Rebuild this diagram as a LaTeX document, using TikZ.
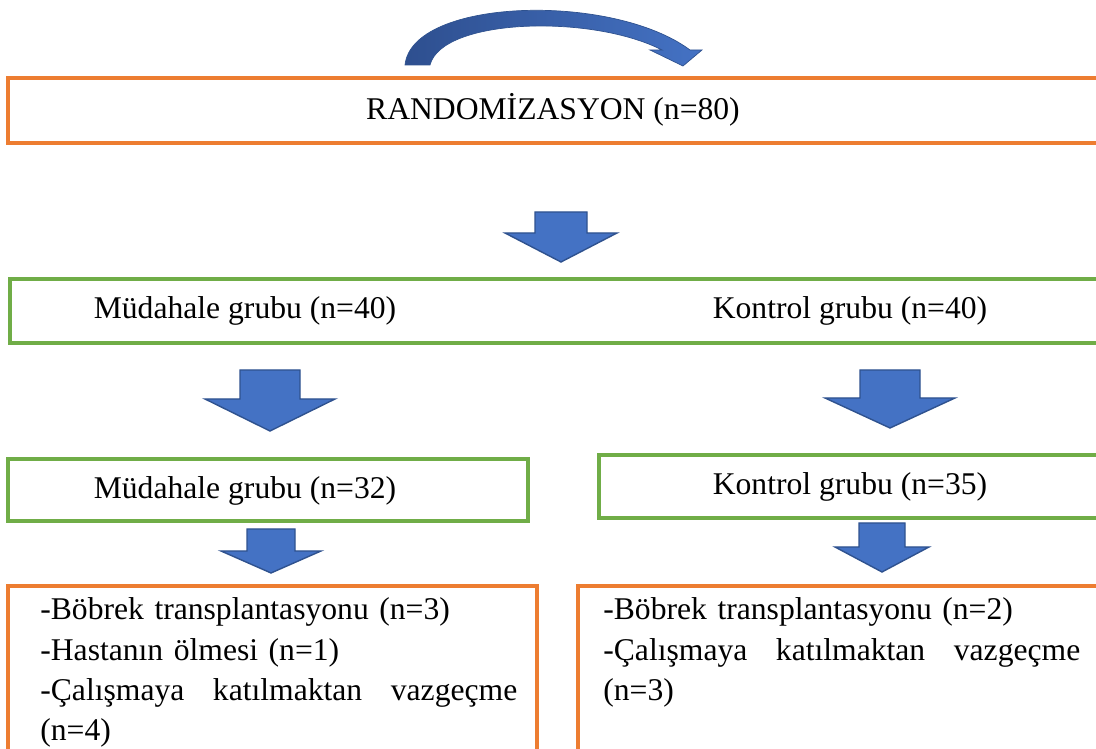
\documentclass[tikz,border=0pt]{standalone}
\usepackage{fontspec}
\setmainfont{Liberation Serif}
\usetikzlibrary{calc}
\definecolor{boxorange}{HTML}{ED7D31}
\definecolor{boxgreen}{HTML}{70AD47}
\definecolor{arrowblue}{HTML}{4472C4}
\definecolor{arrowedge}{HTML}{2F528F}
\definecolor{arcdark}{HTML}{2E4F8F}
% kalin asagi ok: #1 orta x, #2 govde ustu, #3 bas ustu, #4 uc, #5 govde yari genislik, #6 bas yari genislik
\newcommand{\downblock}[6]{%
  \filldraw[fill=arrowblue, draw=arrowedge, line width=0.8pt, line join=miter]
    (#1-#5,#2) -- (#1+#5,#2) -- (#1+#5,#3) -- (#1+#6,#3) -- (#1,#4)
    -- (#1-#6,#3) -- (#1-#5,#3) -- cycle;
}

\begin{document}
\begin{tikzpicture}[
  x=0.02cm, y=-0.02cm,
  orangebox/.style={draw=boxorange, line width=2pt},
  greenbox/.style={draw=boxgreen, line width=2pt},
  txt/.style={font=\fontsize{18}{22.9}\selectfont, inner sep=0pt},
  listtxt/.style={txt, text width=9.54cm, align=left, anchor=base west},
  ]
  \useasboundingbox (0,0) rectangle (1096,749);
  \clip (0,0) rectangle (1096,749);

  % ust kavisli ok
  \shade[left color=arcdark, right color=arrowblue, draw=arrowedge, line width=0.4pt]
    (405,65) .. controls (412,-2) and (612,-8) .. (690,50)
    -- (702,50) -- (683,66) -- (650,50) -- (662,50)
    .. controls (592,14) and (442,18) .. (430,65) -- cycle;

  % randomizasyon
  \node[orangebox, minimum width=21.92cm, minimum height=1.3cm] (rand) at (556,110.5) {};
  \node[txt] (randtxt) at (553,110) {RANDOMİZASYON (n=80)};
  \downblock{561}{212}{233}{262}{26}{56}

  % gruplar
  \node[greenbox, minimum width=21.88cm, minimum height=1.28cm] (grp) at (557,311) {};
  \node[txt] (mud40) at (245,311) {Müdahale grubu (n=40)};
  \node[txt] (kon40) at (850,311) {Kontrol grubu (n=40)};
  \downblock{270}{370}{399}{431}{30}{65}
  \downblock{890}{370}{398}{428}{30}{65}

  % kalan hastalar
  \node[greenbox, minimum width=10.4cm, minimum height=1.24cm] (mudbox) at (268,490) {};
  \node[txt] (mud32) at (245,491) {Müdahale grubu (n=32)};
  \node[greenbox, minimum width=10.1cm, minimum height=1.26cm] (konbox) at (851.5,486.5) {};
  \node[txt] (kon35) at (850,487) {Kontrol grubu (n=35)};
  \downblock{271}{529}{551}{573}{24}{50}
  \downblock{882}{523}{547}{572}{23}{47}

  % cikarilanlar
  \node[orangebox, minimum width=10.58cm, minimum height=3.48cm] (mudout) at (272.5,673) {};
  \node[listtxt] (mudlist) at (40,620) {-Böbrek transplantasyonu (n=3)\\
    -Hastanın ölmesi (n=1)\\
    -Çalışmaya\hfill katılmaktan\hfill vazgeçme\\
    (n=4)};
  \node[orangebox, minimum width=10.52cm, minimum height=3.48cm] (konout) at (841,673) {};
  \node[listtxt] (konlist) at (603,620) {-Böbrek transplantasyonu (n=2)\\
    -Çalışmaya\hfill katılmaktan\hfill vazgeçme\\
    (n=3)};
\end{tikzpicture}
\end{document}
